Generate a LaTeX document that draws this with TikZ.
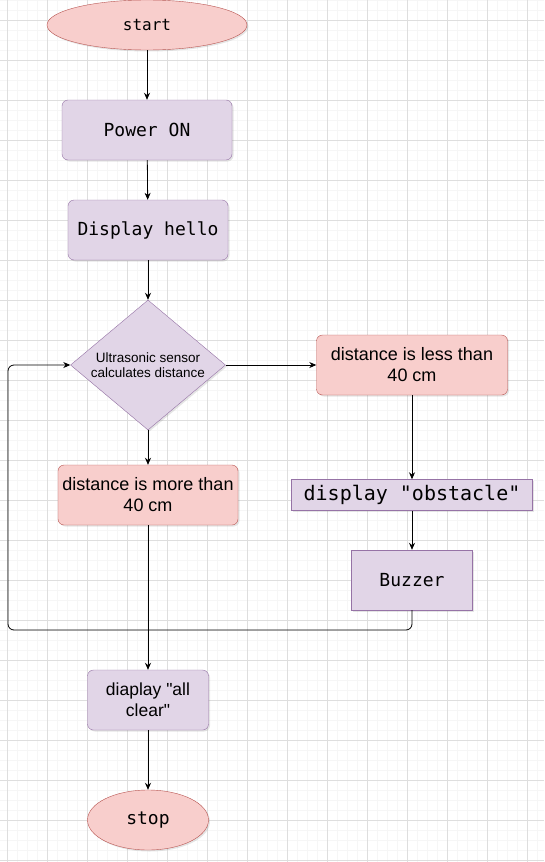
\documentclass[tikz,border=0pt]{standalone}
\usepackage{fontspec}
\setmainfont{Liberation Sans}[Ligatures=TeXOff]
\setmonofont{DejaVu Sans Mono}
\usetikzlibrary{shapes.geometric,arrows.meta,shadows}
\definecolor{pinkfill}{HTML}{F8CECC}
\definecolor{pinkline}{HTML}{B85450}
\definecolor{lilacfill}{HTML}{E1D5E7}
\definecolor{lilacline}{HTML}{9673A6}
\definecolor{gridmajor}{HTML}{DEDEDE}
\definecolor{gridminor}{HTML}{F6F6F6}

\begin{document}
\begin{tikzpicture}[x=1pt,y=-1pt,
	every node/.style={align=center,inner sep=0pt,drop shadow={opacity=0.2,shadow xshift=1.5pt,shadow yshift=-1.5pt}},
	terminal/.style={ellipse,draw=pinkline,fill=pinkfill,font=\ttfamily},
	process/.style={rectangle,rounded corners=6pt,draw=lilacline,fill=lilacfill,minimum height=60pt},
	result/.style={rectangle,rounded corners=6pt,draw=pinkline,fill=pinkfill,minimum height=60pt,font=\fontsize{18}{21}\selectfont},
	action/.style={rectangle,draw=lilacline,fill=lilacfill},
	decision/.style={diamond,draw=lilacline,fill=lilacfill,shape aspect=1.19,minimum width=155pt,minimum height=130pt,font=\fontsize{13.5}{15}\selectfont},
	flow/.style={-{Stealth[length=7pt,width=6pt]},line width=0.8pt}]

	% background grid
	\useasboundingbox (0,0) rectangle (544,862);
	\begin{scope}
	\clip (0,0) rectangle (544,862);
	\fill[white] (0,0) rectangle (544,862);
	\foreach \gx in {-3,7,...,544} \draw[gridminor,line width=0.6pt] (\gx,0) -- (\gx,862);
	\foreach \gy in {0,10,...,862} \draw[gridminor,line width=0.6pt] (0,\gy) -- (544,\gy);
	\foreach \gx in {7,47,...,544} \draw[gridmajor,line width=0.6pt] (\gx,0) -- (\gx,862);
	\foreach \gy in {20,60,...,862} \draw[gridmajor,line width=0.6pt] (0,\gy) -- (544,\gy);
	\end{scope}

	% main column
	\node[terminal,minimum width=200pt,minimum height=50pt,font=\ttfamily\fontsize{16}{19}\selectfont] (start) at (147,25) {start};
	\node[process,minimum width=170pt,font=\ttfamily\fontsize{18}{21}\selectfont] (power) at (147,130) {Power ON};
	\node[process,minimum width=160pt,font=\ttfamily\fontsize{18}{21}\selectfont] (hello) at (148,230) {Display hello};
	\node[decision] (sensor) at (148,365) {Ultrasonic sensor\\calculates distance};
	\node[result,minimum width=180pt] (more) at (148,495) {distance is more than\\40 cm};
	\node[process,minimum width=121pt,font=\fontsize{17.5}{21}\selectfont] (clear) at (148,700) {diaplay "all\\clear"};
	\node[terminal,minimum width=121pt,minimum height=60pt,font=\ttfamily\fontsize{18}{21}\selectfont] (stop) at (148,820) {stop};

	% right column
	\node[result,minimum width=191pt] (less) at (412,365) {distance is less than\\40 cm};
	\node[action,minimum width=241pt,minimum height=31pt,font=\ttfamily\fontsize{20}{23}\selectfont] (obstacle) at (412,495) {display "obstacle"};
	\node[action,minimum width=121pt,minimum height=60pt,font=\ttfamily\fontsize{18}{21}\selectfont] (buzzer) at (412,580) {Buzzer};

	% connectors
	\draw[flow] (start) -- (power);
	\draw[flow] (power) -- (hello);
	\draw[flow] (hello) -- (sensor);
	\draw[flow] (sensor) -- (more);
	\draw[flow] (sensor) -- (less);
	\draw[flow] (less) -- (obstacle);
	\draw[flow] (obstacle) -- (buzzer);
	\draw[flow] (more) -- (clear);
	\draw[flow] (clear) -- (stop);
	\draw[flow,rounded corners=6pt] (buzzer.south) |- (8,630) |- (sensor.west);
\end{tikzpicture}
\end{document}
